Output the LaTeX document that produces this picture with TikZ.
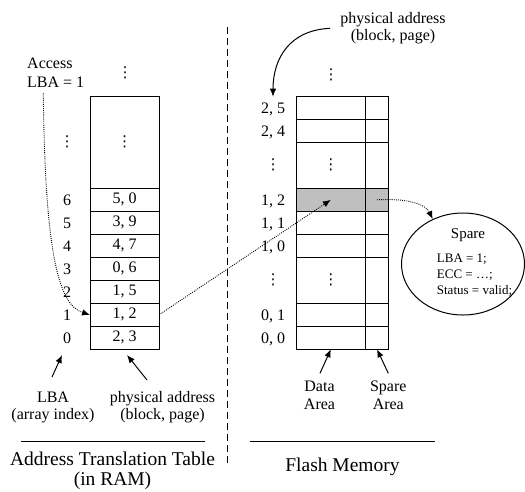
\documentclass[tikz,border=0pt]{standalone}
\usepackage{fontspec}
\setmainfont{Liberation Serif}
\newfontfamily\dvs{DejaVu Sans}
\usetikzlibrary{arrows.meta,shapes.geometric,calc}
\newcommand\lblf{\fontsize{16}{17.5}\selectfont}
\newcommand\accf{\fontsize{16}{19}\selectfont}
\newcommand\ttlf{\fontsize{19.5}{20}\selectfont}
\newcommand\spf{\fontsize{13}{16.3}\selectfont}
\newcommand\sptf{\fontsize{15}{16}\selectfont}
\newcommand\vd{{\dvs\fontsize{15}{15}\selectfont ⋮}}
\begin{document}
\begin{tikzpicture}[x=1pt,y=-1pt,
  box/.style={draw, line width=1pt, inner sep=0pt, outer sep=0pt, minimum height=23pt, font=\lblf},
  tcell/.style={box, minimum width=69pt},
  dcell/.style={box, minimum width=69.7pt},
  scell/.style={box, minimum width=22.6pt},
  hl/.style={fill=gray!50},
  lbl/.style={font=\lblf, inner sep=0pt},
  arr/.style={line width=1pt, -{Latex[length=8pt,width=6.5pt]}},
  dotarr/.style={line width=0.9pt, dash pattern=on 0.9pt off 1.2pt, -{Latex[length=8pt,width=6.5pt]}},
  rule/.style={line width=1pt}
]
\useasboundingbox (0,0) rectangle (525,491);

% ---- address translation table ----
\node[tcell, minimum height=92pt] (ttop) at (124.5,142.3) {\vd};
\node[tcell] (t6) at (124.5,199.8) {5, 0};
\node[tcell] (t5) at (124.5,222.8) {3, 9};
\node[tcell] (t4) at (124.5,245.8) {4, 7};
\node[tcell] (t3) at (124.5,268.8) {0, 6};
\node[tcell] (t2) at (124.5,291.8) {1, 5};
\node[tcell] (t1) at (124.5,314.8) {1, 2};
\node[tcell] (t0) at (124.5,337.8) {2, 3};
\node[lbl] (tdots) at (125,73) {\vd};

\node[lbl] (idots) at (67,142.3) {\vd};
\node[lbl, anchor=base] (i6) at (67,205.2) {6};
\node[lbl, anchor=base] (i5) at (67,228.2) {5};
\node[lbl, anchor=base] (i4) at (67,251.2) {4};
\node[lbl, anchor=base] (i3) at (67,274.2) {3};
\node[lbl, anchor=base] (i2) at (67,297.2) {2};
\node[lbl, anchor=base] (i1) at (67,320.2) {1};
\node[lbl, anchor=base] (i0) at (67,343.2) {0};

\node[lbl, font=\accf, anchor=north west, align=left] (acc) at (27,57.4) {Access\\LBA = 1};

\node[lbl, anchor=north, align=center] (lbal) at (53,391.5) {LBA\\(array index)};
\node[lbl, anchor=north, align=center] (pal) at (162.5,390.8) {physical address\\(block, page)};

% ---- flash memory ----
\node[dcell] (f25) at (330.85,107.8) {};
\node[dcell] (f24) at (330.85,130.8) {};
\node[dcell, minimum height=46pt] (fg2) at (330.85,165.3) {\vd};
\node[dcell, hl] (f6) at (330.85,199.8) {};
\node[dcell] (f5) at (330.85,222.8) {};
\node[dcell] (f4) at (330.85,245.8) {};
\node[dcell, minimum height=46pt] (fg1) at (330.85,280.3) {\vd};
\node[dcell] (f1) at (330.85,314.8) {};
\node[dcell] (f0) at (330.85,337.8) {};

\node[scell] (s25) at (377,107.8) {};
\node[scell] (s24) at (377,130.8) {};
\node[scell, minimum height=46pt] (sg2) at (377,165.3) {};
\node[scell, hl] (s6) at (377,199.8) {};
\node[scell] (s5) at (377,222.8) {};
\node[scell] (s4) at (377,245.8) {};
\node[scell, minimum height=46pt] (sg1) at (377,280.3) {};
\node[scell] (s1) at (377,314.8) {};
\node[scell] (s0) at (377,337.8) {};
\node[lbl] (fdots) at (331,75) {\vd};

\node[lbl, anchor=base] (l25) at (273,113.2) {2, 5};
\node[lbl, anchor=base] (l24) at (273,136.2) {2, 4};
\node[lbl] (lg2) at (273,165.3) {\vd};
\node[lbl, anchor=base] (l12) at (273,205.2) {1, 2};
\node[lbl, anchor=base] (l11) at (273,228.2) {1, 1};
\node[lbl, anchor=base] (l10) at (273,251.2) {1, 0};
\node[lbl] (lg1) at (273,280.3) {\vd};
\node[lbl, anchor=base] (l01) at (273,320.2) {0, 1};
\node[lbl, anchor=base] (l00) at (273,343.2) {0, 0};

\node[lbl, anchor=north, align=center] (pat) at (393,12.1) {physical address\\(block, page)};
\node[lbl, anchor=north, font=\fontsize{16}{18}\selectfont, align=center] (datal) at (319.5,380.7) {Data\\Area};
\node[lbl, anchor=north, font=\fontsize{16}{18}\selectfont, align=center] (sparel) at (388.3,380.7) {Spare\\Area};

% ---- spare ellipse ----
\node[draw, ellipse, line width=1pt, inner sep=0pt, minimum width=123pt, minimum height=102pt] (sp) at (463,264) {};
\node[inner sep=0pt, font=\sptf, anchor=base] (spt) at (468,238.3) {Spare};
\node[inner sep=0pt, font=\spf, anchor=north west, align=left] (spd) at (436.7,253.3) {LBA = 1;\\ECC = \ldots;\\Status = valid;};

% ---- separators and titles ----
\draw[line width=1pt, dash pattern=on 7pt off 4pt] (227.7,27) -- (227.7,465);
\draw[rule] (20.7,441) -- (205,441);
\draw[rule] (250,441) -- (435,441);
\node[inner sep=0pt, font=\ttlf, anchor=north, align=center] (ttl1) at (112.5,451.7) {Address Translation Table\\(in RAM)};
\node[inner sep=0pt, font=\ttlf, anchor=base] (ttl2) at (342.5,471.7) {Flash Memory};

% ---- connectors ----
\coordinate (accS) at ($(acc.south west)+(16.3,6)$);
\draw[dotarr] (accS) .. controls (45,250) and (58,305) .. (t1.west);
\draw[dotarr] (t1.east) -- (f6.center);
\draw[dotarr] (s6.center) .. controls (410,198) and (426,205) .. (sp.124);
\draw[arr] ([xshift=-10pt]pat.west) .. controls (290,30) and (273,58) .. ([yshift=5.7pt]l25.north);

\coordinate (lbaS) at (52,377);
\coordinate (lbaT) at (62,355);
\draw[arr] (lbaS) -- (lbaT);
\coordinate (paS) at (147,380);
\coordinate (paT) at (127,355);
\draw[arr] (paS) -- (paT);
\coordinate (dS) at (320,373.3);
\draw[arr] (dS) -- (f0.south);
\coordinate (sS) at (388.3,373.3);
\draw[arr] (sS) -- (s0.south);
\end{tikzpicture}
\end{document}
